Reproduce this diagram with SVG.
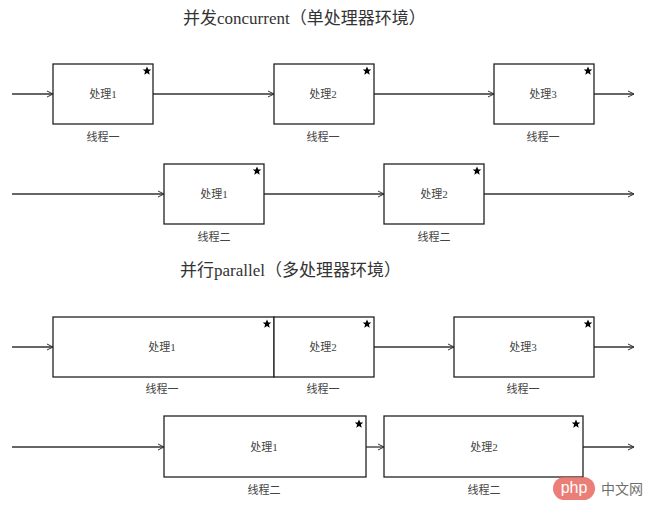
<svg xmlns="http://www.w3.org/2000/svg" xmlns:xlink="http://www.w3.org/1999/xlink" width="652" height="514" viewBox="0 0 652 514">
<style>
.box{fill:#fff;stroke:#222;stroke-width:1.3}
.ln{stroke:#333;stroke-width:1.3;fill:none}
.t{font-family:"Liberation Serif","Noto Sans CJK SC",serif;font-size:11px;fill:#444;text-anchor:middle;dominant-baseline:central}
.title{font-family:"Liberation Serif","Noto Sans CJK SC",serif;font-size:17px;fill:#333}
</style>
<defs>
<marker id="ah" markerWidth="8" markerHeight="8" refX="7" refY="4" orient="auto" markerUnits="userSpaceOnUse">
<path d="M1,1 L7,4 L1,7" fill="none" stroke="#333" stroke-width="1"/>
</marker>
<polygon id="star" points="0,-4.5 1.3,-1.4 4.3,-1.4 1.9,0.6 2.7,3.8 0,2 -2.7,3.8 -1.9,0.6 -4.3,-1.4 -1.3,-1.4" fill="#000"/>
</defs>
<rect width="652" height="514" fill="#fff"/>
<text class="title" x="183" y="24">并发concurrent（单处理器环境）</text>
<text class="title" x="180" y="276">并行parallel（多处理器环境）</text>
<g id="connectors">
<line class="ln" x1="12" y1="94" x2="53" y2="94" marker-end="url(#ah)"/>
<line class="ln" x1="153" y1="94" x2="274" y2="94" marker-end="url(#ah)"/>
<line class="ln" x1="374" y1="94" x2="494" y2="94" marker-end="url(#ah)"/>
<line class="ln" x1="594" y1="94" x2="634" y2="94" marker-end="url(#ah)"/>
<line class="ln" x1="12" y1="194" x2="164" y2="194" marker-end="url(#ah)"/>
<line class="ln" x1="264" y1="194" x2="384" y2="194" marker-end="url(#ah)"/>
<line class="ln" x1="484" y1="194" x2="634" y2="194" marker-end="url(#ah)"/>
<line class="ln" x1="12" y1="347" x2="53" y2="347" marker-end="url(#ah)"/>
<line class="ln" x1="374" y1="347" x2="454" y2="347" marker-end="url(#ah)"/>
<line class="ln" x1="594" y1="347" x2="634" y2="347" marker-end="url(#ah)"/>
<line class="ln" x1="12" y1="447" x2="164" y2="447" marker-end="url(#ah)"/>
<line class="ln" x1="366" y1="447" x2="384" y2="447" marker-end="url(#ah)"/>
<line class="ln" x1="583" y1="447" x2="634" y2="447" marker-end="url(#ah)"/>
</g>
<g id="c1">
<rect class="box" x="53" y="64" width="100" height="60"/>
<use xlink:href="#star" x="147" y="71"/>
<text class="t" x="103" y="94">处理1</text>
<text class="t" x="103" y="137">线程一</text>
</g>
<g id="c2">
<rect class="box" x="274" y="64" width="100" height="60"/>
<use xlink:href="#star" x="367" y="71"/>
<text class="t" x="323" y="94">处理2</text>
<text class="t" x="323" y="137">线程一</text>
</g>
<g id="c3">
<rect class="box" x="494" y="64" width="100" height="60"/>
<use xlink:href="#star" x="588" y="71"/>
<text class="t" x="543" y="94">处理3</text>
<text class="t" x="543" y="137">线程一</text>
</g>
<g id="c4">
<rect class="box" x="164" y="164" width="100" height="60"/>
<use xlink:href="#star" x="257" y="171"/>
<text class="t" x="214" y="194">处理1</text>
<text class="t" x="214" y="237">线程二</text>
</g>
<g id="c5">
<rect class="box" x="384" y="164" width="100" height="60"/>
<use xlink:href="#star" x="477" y="171"/>
<text class="t" x="434" y="194">处理2</text>
<text class="t" x="434" y="237">线程二</text>
</g>
<g id="p1">
<rect class="box" x="53" y="317" width="221" height="60"/>
<use xlink:href="#star" x="267" y="324"/>
<text class="t" x="162" y="347">处理1</text>
<text class="t" x="162" y="389">线程一</text>
</g>
<g id="p2">
<rect class="box" x="274" y="317" width="100" height="60"/>
<use xlink:href="#star" x="367" y="324"/>
<text class="t" x="323" y="347">处理2</text>
<text class="t" x="323" y="389">线程一</text>
</g>
<g id="p3">
<rect class="box" x="454" y="317" width="140" height="60"/>
<use xlink:href="#star" x="588" y="324"/>
<text class="t" x="523" y="347">处理3</text>
<text class="t" x="523" y="389">线程一</text>
</g>
<g id="p4">
<rect class="box" x="164" y="416" width="202" height="61"/>
<use xlink:href="#star" x="359" y="424"/>
<text class="t" x="264" y="447">处理1</text>
<text class="t" x="264" y="490">线程二</text>
</g>
<g id="p5">
<rect class="box" x="384" y="416" width="199" height="61"/>
<use xlink:href="#star" x="576" y="424"/>
<text class="t" x="484" y="447">处理2</text>
<text class="t" x="484" y="490">线程二</text>
</g>
<g id="watermark" opacity="0.85">
<rect x="553" y="477" width="42" height="23" rx="11.5" fill="#e8685f"/>
<text x="574" y="493" font-family="'Liberation Sans',sans-serif" font-size="16" fill="#fff" text-anchor="middle">php</text>
<text x="601" y="494" font-family="'Noto Sans CJK SC',sans-serif" font-size="14" fill="#555">中文网</text>
</g>
</svg>
